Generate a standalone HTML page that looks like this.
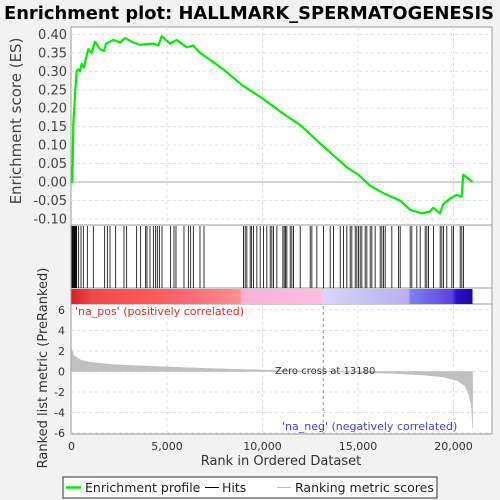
<!DOCTYPE html>
<html><head><meta charset="utf-8"><style>
body{margin:0;background:#f2f2f2;}
svg{display:block;font-family:"DejaVu Sans","Liberation Sans",sans-serif;}
</style></head><body>
<svg id="chart" width="500" height="500">
<defs>
<linearGradient id="cbar" x1="0" x2="1" y1="0" y2="0">
<stop offset="0" stop-color="#d81e2a"/><stop offset="0.05" stop-color="#f04848"/><stop offset="0.2" stop-color="#ff5a5a"/>
<stop offset="0.3" stop-color="#ff6a78"/><stop offset="0.42" stop-color="#ff9090"/><stop offset="0.425" stop-color="#ffb0d8"/>
<stop offset="0.626" stop-color="#ffbde0"/><stop offset="0.628" stop-color="#d8d4f8"/><stop offset="0.84" stop-color="#b8b0f0"/>
<stop offset="0.845" stop-color="#8080f0"/><stop offset="0.95" stop-color="#5a40e0"/><stop offset="0.96" stop-color="#2a10c8"/><stop offset="1" stop-color="#2000b8"/>
</linearGradient>
</defs>
<text x="4" y="19" font-size="18" font-weight="bold" textLength="490" lengthAdjust="spacingAndGlyphs">Enrichment plot: HALLMARK_SPERMATOGENESIS</text>
<rect x="71" y="27" width="421" height="198" fill="#fff" stroke="#999"/>
<rect x="71" y="225" width="421" height="63" fill="#fff" stroke="#999"/>
<rect x="71" y="288" width="421" height="16" fill="#fff" stroke="#999"/>
<rect x="71" y="304" width="421" height="130" fill="#fff" stroke="#999"/>
<g id="grid"></g><g id="metric"></g><g id="hits"></g>
<rect x="71.5" y="289" width="401" height="15" fill="url(#cbar)"/>
<g id="es"></g><g id="axes"></g>
<text x="75" y="315" font-size="11" fill="#e03030">'na_pos' (positively correlated)</text>
<text x="282" y="430" font-size="11" fill="#4040e0">'na_neg' (negatively correlated)</text>
<text x="275" y="374" font-size="10" fill="#333">Zero cross at 13180</text>
<text transform="translate(21,121) rotate(-90)" text-anchor="middle" font-size="15" fill="#444">Enrichment score (ES)</text>
<text transform="translate(47,368) rotate(-90)" text-anchor="middle" font-size="13" fill="#333">Ranked list metric (PreRanked)</text>
<text x="281" y="465" text-anchor="middle" font-size="13" fill="#333">Rank in Ordered Dataset</text>
<g>
<rect x="63" y="477" width="374" height="21" fill="#fff" stroke="#333"/>
<line x1="66" y1="487.5" x2="81" y2="487.5" stroke="#00ee00" stroke-width="2.5"/>
<text x="85" y="492" font-size="12.5" fill="#222">Enrichment profile</text>
<line x1="205" y1="487.5" x2="219" y2="487.5" stroke="#000"/>
<text x="222" y="492" font-size="12.5" fill="#222">Hits</text>
<line x1="277" y1="487.5" x2="291" y2="487.5" stroke="#bbb"/>
<text x="295" y="492" font-size="12.5" fill="#222">Ranking metric scores</text>
</g>
</svg>
<script>
const esRanks=[0,26,61,96,131,201,270,358,445,532,654,759,881,1056,1230,1492,1701,1806,2190,2539,2801,3237,3586,4284,4546,4720,5157,5505,6029,6378,6727,7425,7948,8995,10042,11089,11962,13009,14405,15016,15627,16325,17197,17720,18331,18768,18942,19291,19465,19814,20163,20425,20512,21000];
const esValues=[0,0,0.045,0.16,0.19,0.25,0.30,0.305,0.30,0.32,0.31,0.335,0.36,0.35,0.38,0.36,0.355,0.375,0.385,0.378,0.39,0.378,0.372,0.375,0.37,0.395,0.375,0.385,0.365,0.37,0.35,0.325,0.305,0.26,0.225,0.185,0.155,0.105,0.04,0.02,-0.01,-0.03,-0.05,-0.075,-0.085,-0.08,-0.07,-0.085,-0.06,-0.045,-0.035,-0.04,0.02,0];
const hitRanks=[26,61,96,131,166,201,236,270,375,497,619,829,1143,1736,1876,2016,2312,2748,2888,3411,3621,3882,3952,4109,4284,4406,4493,4598,4738,5191,5366,5470,5889,6117,6239,6378,6727,6937,9006,9094,9181,9355,9432,9530,9705,9879,10054,10228,10403,10490,10577,10752,11066,11136,11206,11276,11450,11537,11625,11974,12497,12585,12846,13195,13544,13719,14068,14242,14417,14591,14678,14853,14940,15027,15114,15202,15376,15463,15638,15725,15899,16161,16249,16336,16423,16772,17121,17208,17731,17819,18080,18255,18517,18604,18691,18953,19302,19389,19476,19651,19913,20000,20349,20436,20524];
const metricRanks=[0,100,500,1000,2000,3000,5000,7000,9000,11000,13180,15000,17000,18500,19500,20200,20600,20800,20950,21000];
const metricValues=[2.3,1.6,1.1,0.9,0.7,0.6,0.45,0.3,0.2,0.1,0,-0.1,-0.2,-0.35,-0.55,-0.9,-1.4,-2.2,-3.5,-5.5];
const esTicks=[0.40,0.35,0.30,0.25,0.20,0.15,0.10,0.05,0.00,-0.05,-0.10];
const metricTicks=[6,4,2,0,-2,-4,-6];
const xTicks=[0,5000,10000,15000,20000];
const xTickLabels=['0','5,000','10,000','15,000','20,000'];
const NS='http://www.w3.org/2000/svg';
const X=r=>71.5+r*0.0191;
const YE=v=>182-v*369;
const YM=v=>371.5-v*10.25;
function mk(p,t,a){const e=document.createElementNS(NS,t);for(const k in a)e.setAttribute(k,a[k]);document.getElementById(p).appendChild(e);return e;}
xTicks.forEach(t=>{if(t>0){
 let g=mk('grid','line',{x1:X(t),x2:X(t),y1:27,y2:225,stroke:'#ddd','stroke-dasharray':'3,3'});
 
 
 let g2=mk('grid','line',{x1:X(t),x2:X(t),y1:304,y2:434,stroke:'#ddd','stroke-dasharray':'3,3'});
 
 }});
esTicks.forEach(t=>{
 let g=mk('grid','line',{x1:71,x2:492,y1:YE(t),y2:YE(t),stroke:Math.abs(t)<1e-9?'#aaa':'#ddd','stroke-dasharray':Math.abs(t)<1e-9?'':'3,3'});
 
 
 let l=mk('axes','text',{x:67,y:YE(t)+4.5,'text-anchor':'end','font-size':13,fill:'#444'});
 l.textContent=t.toFixed(2);
 
 });
metricTicks.forEach(t=>{
 let g=mk('grid','line',{x1:71,x2:492,y1:YM(t),y2:YM(t),stroke:'#ddd','stroke-dasharray':'3,3'});
 
 
 let l=mk('axes','text',{x:65,y:YM(t)+4,'text-anchor':'end','font-size':11,fill:'#333'});
 l.textContent=t;
 
 });
xTicks.forEach((t,i)=>{
 let l=mk('axes','text',{x:X(t),y:450,'text-anchor':'middle','font-size':11,fill:'#333'});
 l.textContent=xTickLabels[i];
 
 });
let zl=mk('grid','line',{x1:X(13180),x2:X(13180),y1:288,y2:434,stroke:'#999','stroke-dasharray':'3,3'});


let d='M'+X(0)+','+YM(0);
metricRanks.forEach((r,i)=>{d+=' L'+X(r)+','+YM(metricValues[i]);});
d+=' L'+X(metricRanks[metricRanks.length-1])+','+YM(0)+' Z';
let ma=mk('metric','path',{d:d,fill:'#c0c0c0',stroke:'#c0c0c0','stroke-width':0.5});


hitRanks.forEach(r=>{
 let h=mk('hits','line',{x1:X(r),x2:X(r),y1:226,y2:288,stroke:'#000','stroke-width':0.8});
 
 });
let pts=esRanks.map((r,i)=>X(r)+','+YE(esValues[i])).join(' ');
let es=mk('es','polyline',{points:pts,fill:'none',stroke:'#00ee00','stroke-width':2.2,'stroke-linejoin':'round'});


</script>
</body></html>
